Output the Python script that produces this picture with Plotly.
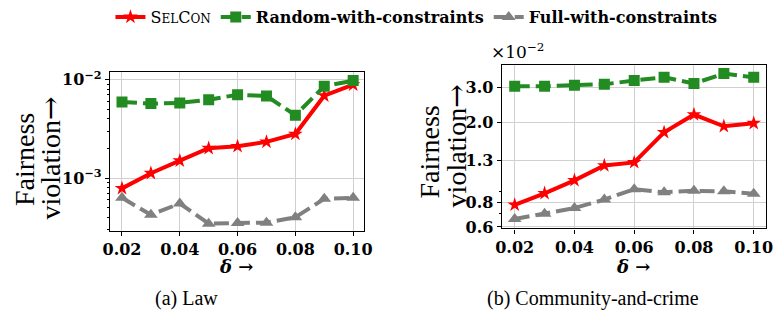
import plotly.graph_objects as go
import numpy as np

delta = [0.02, 0.03, 0.04, 0.05, 0.06, 0.07, 0.08, 0.09, 0.10]

# (a) Law
law_selcon = [7.85e-4, 1.12e-3, 1.50e-3, 2.01e-3, 2.10e-3, 2.33e-3, 2.80e-3, 6.87e-3, 8.89e-3]
law_random = [5.93e-3, 5.71e-3, 5.80e-3, 6.25e-3, 7.03e-3, 6.82e-3, 4.35e-3, 8.57e-3, 9.78e-3]
law_full = [6.29e-4, 4.23e-4, 5.51e-4, 3.44e-4, 3.49e-4, 3.52e-4, 3.99e-4, 6.15e-4, 6.29e-4]

# (b) Community-and-crime (values in units of 10^-2)
cc_selcon = [0.774, 0.885, 1.028, 1.22, 1.265, 1.79, 2.20, 1.92, 1.99]
cc_random = [3.05, 3.05, 3.09, 3.12, 3.26, 3.38, 3.15, 3.53, 3.38]
cc_full = [0.657, 0.699, 0.746, 0.823, 0.928, 0.895, 0.911, 0.905, 0.879]

x_ticks = [0.02, 0.04, 0.06, 0.08, 0.10]
x_ticktext = ["0.02", "0.04", "0.06", "0.08", "0.10"]
law_yticks = [1e-3, 1e-2]
law_yticktext = ["10<sup>−3</sup>", "10<sup>−2</sup>"]
cc_yticks = [0.6, 0.8, 1.3, 2.0, 3.0]
cc_yticktext = ["0.6", "0.8", "1.3", "2.0", "3.0"]

names = ["S<span style='font-size:12px'>EL</span>C<span style='font-size:12px'>ON</span>",
         "<b>Random-with-constraints</b>", "<b>Full-with-constraints</b>"]
colors = ["#ff0000", "#228b22", "#808080"]
symbols = ["star", "square", "triangle-up"]
dashes = ["solid", "15px,6px", "15px,6px"]
msizes = [11, 11, 12]

fig = go.Figure()
for i, ys in enumerate([law_selcon, law_random, law_full]):
    fig.add_trace(go.Scatter(x=delta, y=ys, mode="lines+markers", name=names[i],
                             line=dict(color=colors[i], width=4, dash=dashes[i]),
                             marker=dict(symbol=symbols[i], size=msizes[i], color=colors[i]),
                             xaxis="x", yaxis="y", showlegend=True))
for i, ys in enumerate([cc_selcon, cc_random, cc_full]):
    fig.add_trace(go.Scatter(x=delta, y=ys, mode="lines+markers", name=names[i],
                             line=dict(color=colors[i], width=4, dash=dashes[i]),
                             marker=dict(symbol=symbols[i], size=msizes[i], color=colors[i]),
                             xaxis="x2", yaxis="y2", showlegend=False))

W, H = 783, 315
tickfont = dict(family="DejaVu Serif", size=16, color="black", weight="bold")
common_x = dict(tickvals=x_ticks, ticktext=x_ticktext, showgrid=True, gridcolor="#d0d0d0", gridwidth=1,
                ticks="outside", ticklen=4, tickcolor="black", showline=True, linecolor="black",
                linewidth=1.2, mirror=True, tickfont=tickfont, zeroline=False)
common_y = dict(type="log", showgrid=True, gridcolor="#d0d0d0", gridwidth=1,
                ticks="outside", ticklen=4, tickcolor="black", showline=True, linecolor="black",
                linewidth=1.2, mirror=True, tickfont=tickfont, zeroline=False)

law_minor = [k * 1e-4 for k in range(3, 10)] + [k * 1e-3 for k in range(2, 10)]
cc_minor = [0.7, 0.9]

fig.update_layout(
    width=W, height=H, margin=dict(l=0, r=0, t=0, b=0),
    plot_bgcolor="white", paper_bgcolor="white",
    xaxis=dict(domain=[105 / W, 364 / W], range=[0.0158, 0.1036], anchor="y", **common_x),
    yaxis=dict(domain=[1 - 234 / H, 1 - 66 / H], range=[np.log10(2.92e-4), np.log10(1.19e-2)],
               anchor="x", tickvals=law_yticks, ticktext=law_yticktext,
               minor=dict(tickvals=law_minor, ticks="outside", ticklen=2, tickcolor="black", showgrid=False),
               **common_y),
    xaxis2=dict(domain=[505 / W, 775 / W], range=[0.01564, 0.10416], anchor="y2", **common_x),
    yaxis2=dict(domain=[1 - 231.7 / H, 1 - 58 / H], range=[-0.2297, 0.5926],
                anchor="x2", tickvals=cc_yticks, ticktext=cc_yticktext,
                minor=dict(tickvals=cc_minor, ticks="outside", ticklen=2, tickcolor="black", showgrid=False),
                **common_y),
    legend=dict(orientation="h", x=418 / W, xanchor="center", y=1 + 11 / H, yanchor="top",
                font=dict(family="DejaVu Serif", size=16, color="black"),
                itemwidth=30, bgcolor="rgba(0,0,0,0)"),
    showlegend=True,
)

serif = "Liberation Serif, Times New Roman, Times, serif"
lab = dict(family=serif, size=28, color="black")
dlab = dict(family="DejaVu Serif", size=18, color="black", weight="bold")
cap = dict(family=serif, size=20, color="black")
arrow = "<span style='font-family:DejaVu Serif'>→</span>"
anns = [
    dict(x=18 / W, y=1 - 158.5 / H, text="Fairness", textangle=-90, font=lab),
    dict(x=44 / W, y=1 - 157.5 / H, text="violation" + arrow, textangle=-90, font=lab),
    dict(x=431 / W, y=1 - 151 / H, text="Fairness", textangle=-90, font=lab),
    dict(x=459 / W, y=1 - 144 / H, text="violation" + arrow, textangle=-90, font=lab),
    dict(x=234 / W, y=1 - 272 / H, text="<i>δ</i> →", font=dlab),
    dict(x=639 / W, y=1 - 272 / H, text="<i>δ</i> →", font=dlab),
    dict(x=521 / W, y=1 - 44 / H, text="×10<sup>−2</sup>", font=dict(family="DejaVu Serif", size=17, color="black")),
    dict(x=183 / W, y=1 - 306 / H, text="(a) Law", font=cap),
    dict(x=598 / W, y=1 - 306 / H, text="(b) Community-and-crime", font=cap),
]
for a in anns:
    fig.add_annotation(xref="paper", yref="paper", showarrow=False, xanchor="center", yanchor="middle", **a)

fig.write_html("out.html", config={"displayModeBar": False},
               post_script="document.body.style.margin='0';document.body.style.padding='0';")
